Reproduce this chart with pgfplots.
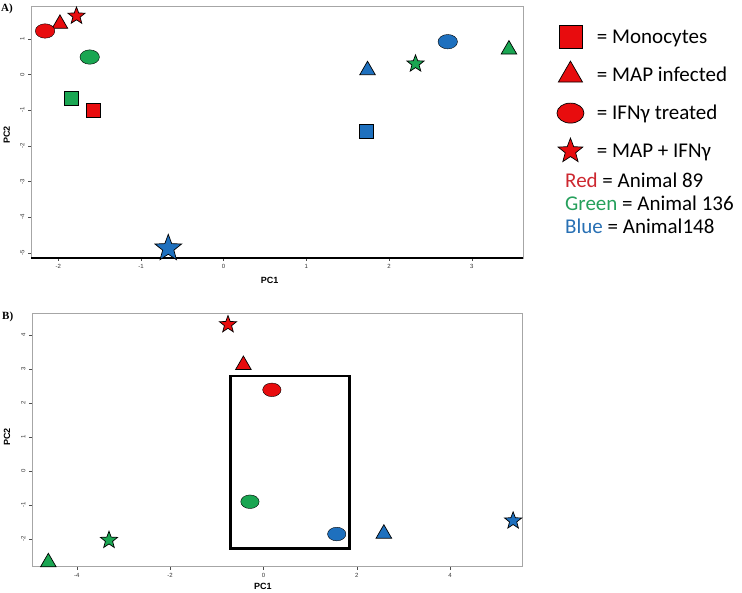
\documentclass[border=0pt]{standalone}
\usepackage{fontspec}
\setmainfont{Carlito}
\newfontfamily\arial{Liberation Sans}
\newfontfamily\timesf{Liberation Serif}
\usepackage{pgfplots}
\pgfplotsset{compat=1.18}

\definecolor{mred}{RGB}{232,12,14}
\definecolor{mgreen}{RGB}{26,166,82}
\definecolor{mblue}{RGB}{30,112,190}
\definecolor{tred}{RGB}{205,40,48}
\definecolor{tgreen}{RGB}{38,160,92}
\definecolor{tblue}{RGB}{40,112,180}

% filled five-point star
\pgfdeclareplotmark{fstar}{%
  \pgfpathmoveto{\pgfpointpolar{90}{\pgfplotmarksize}}%
  \pgfpathlineto{\pgfpointpolar{126}{0.42\pgfplotmarksize}}%
  \pgfpathlineto{\pgfpointpolar{162}{\pgfplotmarksize}}%
  \pgfpathlineto{\pgfpointpolar{198}{0.42\pgfplotmarksize}}%
  \pgfpathlineto{\pgfpointpolar{234}{\pgfplotmarksize}}%
  \pgfpathlineto{\pgfpointpolar{270}{0.42\pgfplotmarksize}}%
  \pgfpathlineto{\pgfpointpolar{306}{\pgfplotmarksize}}%
  \pgfpathlineto{\pgfpointpolar{342}{0.42\pgfplotmarksize}}%
  \pgfpathlineto{\pgfpointpolar{18}{\pgfplotmarksize}}%
  \pgfpathlineto{\pgfpointpolar{54}{0.42\pgfplotmarksize}}%
  \pgfpathclose
  \pgfusepathqfillstroke}

\pgfplotsset{
  pca/.style={
    scale only axis, clip=false,
    axis line style={gray!70, line width=0.7pt},
    tick align=outside, major tick length=3pt,
    xtick pos=lower, ytick pos=left,
    tick style={gray!60!black, line width=0.4pt},
    ticklabel style={font=\arial\fontsize{6}{7}\selectfont, text=gray!40!black},
    /pgf/number format/assume math mode=true,
    yticklabel style={rotate=90, anchor=south},
    label style={font=\arial\bfseries\fontsize{9}{10}\selectfont},
  },
  pts/.style={scatter, only marks, forget plot, scatter src=explicit symbolic,
    scatter/classes={r={fill=mred}, g={fill=mgreen}, b={fill=mblue}},
    mark options={draw=black, line width=0.7pt}},
  keymark/.style={legend image code/.code={
    \path[draw=none, fill=none] (-13pt,-19pt) rectangle (13pt,19pt);
    \draw[black, fill=mred, line width=0.7pt, only marks, #1] plot coordinates {(0pt,0pt)};}},
}

\begin{document}
\begin{tikzpicture}
\useasboundingbox (0,0) rectangle (742pt,592pt);

% ---- panel A
\begin{axis}[pca,
    at={(31pt,334pt)}, anchor=south west,
    width=492pt, height=252pt,
    xmin=-2.33, xmax=3.62, ymin=-5.14, ymax=1.92,
    xtick={-2,-1,0,1,2,3}, ytick={-5,-4,-3,-2,-1,0,1},
    xlabel={PC1}, ylabel={PC2},
    xlabel style={at={(axis description cs:0.485,-0.087)}, anchor=center},
    ylabel style={at={(axis description cs:-0.049,0.488)}, anchor=center, rotate=0},
    legend style={at={(rel axis cs:1.069,0.952)}, anchor=north west,
      draw=none, fill=none, inner sep=0pt, outer sep=0pt,
      row sep=0pt, column sep=11pt, cells={anchor=west},
      font=\fontsize{21}{24}\selectfont},
]
\draw[black, line width=1.8pt] (rel axis cs:0,0) -- (rel axis cs:1,0);

\addplot[pts, mark=square*, mark size=7pt] table[meta=c] {
x y c
-1.57 -0.99 r
-1.84 -0.68 g
1.73 -1.60 b
};
\addplot[pts, mark=triangle*, mark size=9pt] table[meta=c] {
x y c
-1.98 1.42 r
3.45 0.70 g
1.74 0.12 b
};
\addplot[pts, mark=*, mark size=7.2pt, mark options={xscale=1.35}] table[meta=c] {
x y c
-2.16 1.22 r
-1.62 0.49 g
2.71 0.92 b
};
\addplot[pts, mark=fstar, mark size=9pt] table[meta=c] {
x y c
-1.78 1.64 r
2.32 0.30 g
};
\addplot[pts, mark=fstar, mark size=14pt] table[meta=c] {
x y c
-0.67 -4.87 b
};

\addlegendimage{keymark={mark=square*, mark size=11.5pt}}
\addlegendentry{= Monocytes}
\addlegendimage{keymark={mark=triangle*, mark size=14pt}}
\addlegendentry{= MAP infected}
\addlegendimage{keymark={mark=*, mark size=10pt, mark options={xscale=1.35}}}
\addlegendentry{= IFNγ treated}
\addlegendimage{keymark={mark=fstar, mark size=13pt}}
\addlegendentry{= MAP + IFNγ}
\end{axis}

% ---- panel B
\begin{axis}[pca,
    at={(32pt,25.3pt)}, anchor=south west,
    width=490pt, height=253.4pt,
    xmin=-4.96, xmax=5.54, ymin=-2.81, ymax=4.64,
    xtick={-4,-2,0,2,4}, ytick={-2,-1,0,1,2,3,4},
    xlabel={PC1}, ylabel={PC2},
    xlabel style={at={(axis description cs:0.471,-0.079)}, anchor=center},
    ylabel style={at={(axis description cs:-0.051,0.512)}, anchor=center, rotate=0},
]
\draw[black, line width=2.4pt] (axis cs:-0.71,-2.27) rectangle (axis cs:1.84,2.79);

\addplot[pts, mark=triangle*, mark size=9pt] table[meta=c] {
x y c
-0.43 3.12 r
-4.61 -2.68 g
2.58 -1.84 b
};
\addplot[pts, mark=*, mark size=6.8pt, mark options={xscale=1.35}] table[meta=c] {
x y c
0.18 2.39 r
-0.29 -0.90 g
1.57 -1.85 b
};
\addplot[pts, mark=fstar, mark size=9pt] table[meta=c] {
x y c
-0.76 4.31 r
-3.31 -2.03 g
5.35 -1.46 b
};
\end{axis}

% panel tags and colour key
\node[anchor=west, font=\timesf\bfseries\fontsize{11}{12}\selectfont, inner sep=0pt] at (1pt,583.5pt) {A)};
\node[anchor=west, font=\timesf\bfseries\fontsize{11}{12}\selectfont, inner sep=0pt] at (2pt,275.5pt) {B)};
\begin{scope}[every node/.style={anchor=west, inner sep=0pt, font=\fontsize{21}{24}\selectfont}]
\node at (565pt,412pt) {\textcolor{tred}{Red} = Animal 89};
\node at (565pt,389pt) {\textcolor{tgreen}{Green} = Animal 136};
\node at (565pt,366pt) {\textcolor{tblue}{Blue} = Animal148};
\end{scope}
\end{tikzpicture}
\end{document}
